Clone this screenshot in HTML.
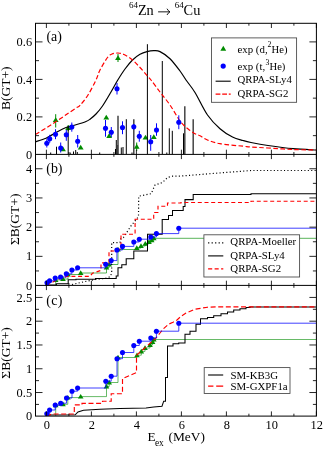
<!DOCTYPE html>
<html><head><meta charset="utf-8"><title>64Zn to 64Cu B(GT+)</title>
<style>
html,body{margin:0;padding:0;background:#fff;}
body{width:324px;height:449px;overflow:hidden;}
svg{display:block;will-change:transform;}
svg text{font-family:"Liberation Serif",serif;fill:#000;}
</style></head><body>
<svg width="324" height="449" viewBox="0 0 324 449">
<rect width="324" height="449" fill="#fff"/>
<defs>
<clipPath id="ca"><rect x="35.5" y="23.3" width="280.9" height="131.1"/></clipPath>
<clipPath id="cb"><rect x="35.5" y="154.4" width="280.9" height="131.0"/></clipPath>
<clipPath id="cc"><rect x="35.5" y="285.4" width="280.9" height="130.7"/></clipPath>
</defs>
<g clip-path="url(#ca)" fill="none">
<path d="M55.70,114.20 V127.50" stroke="#008b00" stroke-width="1"/>
<path d="M55.70,117.20 L52.79,122.10 L58.61,122.10 Z" fill="#008b00"/>
<path d="M63.00,146.40 L60.09,151.30 L65.91,151.30 Z" fill="#008b00"/>
<path d="M68.20,125.00 V131.00" stroke="#008b00" stroke-width="1"/>
<path d="M68.20,125.20 L65.29,130.10 L71.11,130.10 Z" fill="#008b00"/>
<path d="M80.70,144.70 L77.79,149.60 L83.61,149.60 Z" fill="#008b00"/>
<path d="M106.30,114.70 L103.39,119.60 L109.21,119.60 Z" fill="#008b00"/>
<path d="M109.20,133.00 L106.29,137.90 L112.11,137.90 Z" fill="#008b00"/>
<path d="M118.00,54.00 V62.00" stroke="#008b00" stroke-width="1"/>
<path d="M118.00,55.20 L115.09,60.10 L120.91,60.10 Z" fill="#008b00"/>
<path d="M136.70,142.50 V151.00" stroke="#008b00" stroke-width="1"/>
<path d="M136.70,143.90 L133.79,148.80 L139.61,148.80 Z" fill="#008b00"/>
<path d="M145.50,134.70 L142.59,139.60 L148.41,139.60 Z" fill="#008b00"/>
<path d="M153.80,134.20 L150.89,139.10 L156.71,139.10 Z" fill="#008b00"/>
<path d="M50.70,154.40 V152.50" stroke="#000" stroke-width="1"/>
<path d="M56.50,154.40 V146.70" stroke="#000" stroke-width="1"/>
<path d="M68.20,154.40 V126.70" stroke="#000" stroke-width="1"/>
<path d="M70.20,154.40 V152.50" stroke="#000" stroke-width="1"/>
<path d="M73.50,154.40 V151.50" stroke="#000" stroke-width="1"/>
<path d="M75.70,154.40 V150.00" stroke="#000" stroke-width="1"/>
<path d="M77.30,154.40 V152.00" stroke="#000" stroke-width="1"/>
<path d="M99.70,154.40 V152.50" stroke="#000" stroke-width="1"/>
<path d="M115.50,154.40 V149.00" stroke="#000" stroke-width="1"/>
<path d="M116.30,154.40 V140.00" stroke="#000" stroke-width="1"/>
<path d="M117.70,154.40 V145.00" stroke="#000" stroke-width="1"/>
<path d="M118.00,154.40 V115.80" stroke="#444" stroke-width="1.5"/>
<path d="M121.30,154.40 V147.50" stroke="#000" stroke-width="1"/>
<path d="M123.00,154.40 V147.00" stroke="#000" stroke-width="1"/>
<path d="M126.30,154.40 V119.20" stroke="#000" stroke-width="1"/>
<path d="M132.00,154.40 V152.50" stroke="#000" stroke-width="1"/>
<path d="M133.80,154.40 V119.20" stroke="#444" stroke-width="1.5"/>
<path d="M147.40,154.40 V44.20" stroke="#000" stroke-width="1"/>
<path d="M162.30,154.40 V61.00" stroke="#000" stroke-width="1"/>
<path d="M166.80,154.40 V152.50" stroke="#000" stroke-width="1"/>
<path d="M169.30,154.40 V128.30" stroke="#000" stroke-width="1"/>
<path d="M172.30,154.40 V130.80" stroke="#000" stroke-width="1"/>
<path d="M183.50,154.40 V133.30" stroke="#000" stroke-width="1"/>
<path d="M184.80,154.40 V106.30" stroke="#444" stroke-width="1.5"/>
<path d="M193.20,154.40 V119.20" stroke="#444" stroke-width="1.5"/>
<path d="M35.40,141.80 C37.17,141.20 42.57,139.75 46.00,138.20 C49.43,136.65 52.67,134.28 56.00,132.50 C59.33,130.72 62.67,128.78 66.00,127.50 C69.33,126.22 72.67,125.80 76.00,124.80 C79.33,123.80 83.67,122.43 86.00,121.50 C88.33,120.57 88.33,120.45 90.00,119.20 C91.67,117.95 93.92,116.20 96.00,114.00 C98.08,111.80 100.00,109.67 102.50,106.00 C105.00,102.33 108.50,96.25 111.00,92.00 C113.50,87.75 115.17,84.33 117.50,80.50 C119.83,76.67 122.50,72.42 125.00,69.00 C127.50,65.58 130.00,62.45 132.50,60.00 C135.00,57.55 137.58,55.70 140.00,54.30 C142.42,52.90 144.72,52.20 147.00,51.60 C149.28,51.00 151.53,50.70 153.70,50.70 C155.87,50.70 157.28,50.27 160.00,51.60 C162.72,52.93 166.67,55.47 170.00,58.70 C173.33,61.93 177.33,67.45 180.00,71.00 C182.67,74.55 183.50,76.42 186.00,80.00 C188.50,83.58 191.42,86.67 195.00,92.50 C198.58,98.33 203.33,108.97 207.50,115.00 C211.67,121.03 215.83,125.03 220.00,128.70 C224.17,132.37 228.67,135.03 232.50,137.00 C236.33,138.97 239.92,139.58 243.00,140.50 C246.08,141.42 246.83,141.67 251.00,142.50 C255.17,143.33 261.00,144.47 268.00,145.50 C275.00,146.53 284.93,147.95 293.00,148.70 C301.07,149.45 312.50,149.78 316.40,150.00" stroke="#000" stroke-width="1.2"/>
<path d="M35.40,134.50 C37.17,133.42 42.57,130.15 46.00,128.00 C49.43,125.85 52.67,123.80 56.00,121.60 C59.33,119.40 62.67,117.07 66.00,114.80 C69.33,112.53 73.67,109.58 76.00,108.00 C78.33,106.42 78.00,107.47 80.00,105.30 C82.00,103.13 85.33,99.22 88.00,95.00 C90.67,90.78 94.00,84.17 96.00,80.00 C98.00,75.83 98.08,73.75 100.00,70.00 C101.92,66.25 105.50,60.17 107.50,57.50 C109.50,54.83 110.25,54.75 112.00,54.00 C113.75,53.25 116.00,52.92 118.00,53.00 C120.00,53.08 121.58,53.33 124.00,54.50 C126.42,55.67 129.83,57.83 132.50,60.00 C135.17,62.17 137.50,64.83 140.00,67.50 C142.50,70.17 145.67,73.92 147.50,76.00 C149.33,78.08 148.92,77.33 151.00,80.00 C153.08,82.67 156.83,87.83 160.00,92.00 C163.17,96.17 166.78,100.33 170.00,105.00 C173.22,109.67 176.97,116.58 179.30,120.00 C181.63,123.42 182.33,123.83 184.00,125.50 C185.67,127.17 187.47,128.63 189.30,130.00 C191.13,131.37 193.22,132.73 195.00,133.70 C196.78,134.67 197.92,134.75 200.00,135.80 C202.08,136.85 204.17,138.68 207.50,140.00 C210.83,141.32 214.08,142.67 220.00,143.70 C225.92,144.73 237.83,145.65 243.00,146.20 C248.17,146.75 246.83,146.70 251.00,147.00 C255.17,147.30 261.00,147.58 268.00,148.00 C275.00,148.42 284.93,149.17 293.00,149.50 C301.07,149.83 312.50,149.92 316.40,150.00" stroke="#ff0000" stroke-width="1.2" stroke-dasharray="4.6 2.4"/>
<path d="M46.80,139.20 V147.50" stroke="#0000ff" stroke-width="1"/>
<circle cx="46.80" cy="143.30" r="2.55" fill="#0000ff"/>
<path d="M49.70,134.80 V142.80" stroke="#0000ff" stroke-width="1"/>
<circle cx="49.70" cy="138.80" r="2.55" fill="#0000ff"/>
<path d="M55.50,129.20 V139.20" stroke="#0000ff" stroke-width="1"/>
<circle cx="55.50" cy="134.20" r="2.55" fill="#0000ff"/>
<path d="M60.70,142.50 V152.50" stroke="#0000ff" stroke-width="1"/>
<circle cx="60.70" cy="148.00" r="2.55" fill="#0000ff"/>
<path d="M66.30,130.00 V140.80" stroke="#0000ff" stroke-width="1"/>
<circle cx="66.30" cy="134.70" r="2.55" fill="#0000ff"/>
<path d="M71.80,122.50 V131.70" stroke="#0000ff" stroke-width="1"/>
<circle cx="71.80" cy="127.00" r="2.55" fill="#0000ff"/>
<path d="M77.70,135.00 V147.50" stroke="#0000ff" stroke-width="1"/>
<circle cx="77.70" cy="141.30" r="2.55" fill="#0000ff"/>
<path d="M105.50,120.00 V136.70" stroke="#0000ff" stroke-width="1"/>
<circle cx="105.50" cy="128.30" r="2.55" fill="#0000ff"/>
<path d="M111.30,127.00 V137.00" stroke="#0000ff" stroke-width="1"/>
<circle cx="111.30" cy="132.20" r="2.55" fill="#0000ff"/>
<path d="M117.00,83.00 V94.50" stroke="#0000ff" stroke-width="1"/>
<circle cx="117.00" cy="88.70" r="2.55" fill="#0000ff"/>
<path d="M122.50,121.30 V134.20" stroke="#0000ff" stroke-width="1"/>
<circle cx="122.50" cy="127.50" r="2.55" fill="#0000ff"/>
<path d="M133.80,124.00 V129.50" stroke="#0000ff" stroke-width="1"/>
<circle cx="133.80" cy="126.70" r="2.55" fill="#0000ff"/>
<path d="M139.30,130.80 V141.70" stroke="#0000ff" stroke-width="1"/>
<circle cx="139.30" cy="136.20" r="2.55" fill="#0000ff"/>
<path d="M150.70,135.00 V150.80" stroke="#0000ff" stroke-width="1"/>
<circle cx="150.70" cy="141.70" r="2.55" fill="#0000ff"/>
<path d="M156.50,123.30 V135.80" stroke="#0000ff" stroke-width="1"/>
<circle cx="156.50" cy="130.00" r="2.55" fill="#0000ff"/>
<path d="M178.80,115.30 V129.20" stroke="#0000ff" stroke-width="1"/>
<circle cx="178.80" cy="122.20" r="2.55" fill="#0000ff"/>
</g>
<g clip-path="url(#cb)" fill="none">
<path d="M55.7,285.4 V279.9 L55.70,279.90 H63.00 V279.00 H68.00 V274.50 H80.70 V273.00 H106.50 V267.50 H109.20 V264.50 H118.00 V249.50 H136.80 V248.00 H141.00 V246.00 H145.30 V243.80 H149.00 V242.00 H151.70 V240.30 H153.80 V238.30 H316.40" stroke="#008b00" stroke-width="0.65"/>
<path d="M55.70,277.20 L52.89,281.92 L58.51,281.92 Z" fill="#008b00"/>
<path d="M63.00,276.30 L60.19,281.02 L65.81,281.02 Z" fill="#008b00"/>
<path d="M68.00,271.80 L65.19,276.52 L70.81,276.52 Z" fill="#008b00"/>
<path d="M80.70,270.30 L77.89,275.02 L83.51,275.02 Z" fill="#008b00"/>
<path d="M106.50,264.80 L103.69,269.52 L109.31,269.52 Z" fill="#008b00"/>
<path d="M109.20,261.80 L106.39,266.52 L112.01,266.52 Z" fill="#008b00"/>
<path d="M118.00,246.80 L115.19,251.53 L120.81,251.53 Z" fill="#008b00"/>
<path d="M136.80,245.30 L133.99,250.03 L139.61,250.03 Z" fill="#008b00"/>
<path d="M141.00,243.30 L138.19,248.03 L143.81,248.03 Z" fill="#008b00"/>
<path d="M145.30,241.10 L142.49,245.83 L148.11,245.83 Z" fill="#008b00"/>
<path d="M149.00,239.30 L146.19,244.03 L151.81,244.03 Z" fill="#008b00"/>
<path d="M151.70,237.60 L148.89,242.33 L154.51,242.33 Z" fill="#008b00"/>
<path d="M153.80,235.60 L150.99,240.33 L156.61,240.33 Z" fill="#008b00"/>
<path d="M72.00,284.50 L87.50,281.00 L95.50,279.50 L105.90,278.20 L110.50,276.50 L111.70,272.70 L111.70,242.60 L120.00,242.60 L121.00,238.50 L123.40,237.60 L131.00,225.90 L138.50,216.70 L138.70,196.20 L151.20,193.70 L155.00,185.00 L162.50,182.50 L167.50,177.50 L172.50,176.20 L181.00,176.00 L251.00,170.50 L316.40,170.50" stroke="#000" stroke-width="1.2" stroke-dasharray="1.1 2.3"/>
<path d="M46.4,285 H56.4 V283.7 H68.2 V279.8 H76 V279.2 H95.5 V278.5 H116.2 V276 H118 V267.7 H121.8 V264.8 H126.2 V258.8 H133.8 V251 H147.5 V234.2 H162.2 V219.5 H168.5 V215.5 H172.5 V210.5 H183.2 V206.5 H185 V199.6 H193.2 V194.4 H251 V193.8 H316.4" stroke="#000" stroke-width="1.05"/>
<path d="M46.4,285 L51,283 L58.5,279 L67.8,276.3 H90 L92.4,273.3 L101,270.4 V262.8 H109 V251 H116 L121,248.5 V234.2 H135.1 V219.2 H153.7 V212.5 H158 V206.2 H167.5 V203 H181 V202.5 H251 V201.2 H316.4" stroke="#ff0000" stroke-width="1.15" stroke-dasharray="4 2.7"/>
<path d="M47.00,282.80 H49.60 V280.80 H55.20 V278.00 H60.60 V277.00 H66.30 V273.80 H71.90 V270.00 H77.60 V267.80 H105.70 V264.20 H111.20 V260.60 H116.90 V250.00 H122.50 V246.40 H133.80 V242.00 H139.30 V239.20 H150.80 V237.00 H156.40 V233.60 H178.80 V228.20 H316.40" stroke="#0000ff" stroke-width="0.75"/>
<circle cx="47.00" cy="282.80" r="2.55" fill="#0000ff"/>
<circle cx="49.60" cy="280.80" r="2.55" fill="#0000ff"/>
<circle cx="55.20" cy="278.00" r="2.55" fill="#0000ff"/>
<circle cx="60.60" cy="277.00" r="2.55" fill="#0000ff"/>
<circle cx="66.30" cy="273.80" r="2.55" fill="#0000ff"/>
<circle cx="71.90" cy="270.00" r="2.55" fill="#0000ff"/>
<circle cx="77.60" cy="267.80" r="2.55" fill="#0000ff"/>
<circle cx="105.70" cy="264.20" r="2.55" fill="#0000ff"/>
<circle cx="111.20" cy="260.60" r="2.55" fill="#0000ff"/>
<circle cx="116.90" cy="250.00" r="2.55" fill="#0000ff"/>
<circle cx="122.50" cy="246.40" r="2.55" fill="#0000ff"/>
<circle cx="133.80" cy="242.00" r="2.55" fill="#0000ff"/>
<circle cx="139.30" cy="239.20" r="2.55" fill="#0000ff"/>
<circle cx="150.80" cy="237.00" r="2.55" fill="#0000ff"/>
<circle cx="156.40" cy="233.60" r="2.55" fill="#0000ff"/>
<circle cx="178.80" cy="228.20" r="2.55" fill="#0000ff"/>
</g>
<g clip-path="url(#cc)" fill="none">
<path d="M55.7,416.2 V405.3 L55.70,405.30 H63.00 V404.30 H67.80 V397.60 H80.70 V396.60 H106.50 V386.50 H109.20 V382.50 H118.00 V357.50 H137.00 V355.20 H141.30 V351.40 H145.00 V348.00 H150.00 V345.00 H152.60 V342.00 H153.80 V339.50 H316.40" stroke="#008b00" stroke-width="0.6"/>
<path d="M55.70,402.60 L52.89,407.32 L58.51,407.32 Z" fill="#008b00"/>
<path d="M63.00,401.60 L60.19,406.32 L65.81,406.32 Z" fill="#008b00"/>
<path d="M67.80,394.90 L64.99,399.62 L70.61,399.62 Z" fill="#008b00"/>
<path d="M80.70,393.90 L77.89,398.62 L83.51,398.62 Z" fill="#008b00"/>
<path d="M106.50,383.80 L103.69,388.52 L109.31,388.52 Z" fill="#008b00"/>
<path d="M109.20,379.80 L106.39,384.52 L112.01,384.52 Z" fill="#008b00"/>
<path d="M118.00,354.80 L115.19,359.52 L120.81,359.52 Z" fill="#008b00"/>
<path d="M137.00,352.50 L134.19,357.22 L139.81,357.22 Z" fill="#008b00"/>
<path d="M141.30,348.70 L138.49,353.42 L144.11,353.42 Z" fill="#008b00"/>
<path d="M145.00,345.30 L142.19,350.02 L147.81,350.02 Z" fill="#008b00"/>
<path d="M150.00,342.30 L147.19,347.02 L152.81,347.02 Z" fill="#008b00"/>
<path d="M152.60,339.30 L149.79,344.02 L155.41,344.02 Z" fill="#008b00"/>
<path d="M153.80,336.80 L150.99,341.52 L156.61,341.52 Z" fill="#008b00"/>
<path d="M46.40,415.00 L75.20,414.80 L78.00,412.00 L83.50,410.30 L100.00,409.30 L120.00,408.60 L146.00,408.00 L153.70,407.00 L162.00,406.20 L163.70,401.20 L165.50,401.20 L165.50,377.50 L167.50,377.50 L167.50,346.00 L173.00,346.00 L173.00,343.70 L178.70,343.70 L178.70,343.00 L185.00,343.00 L185.00,334.20 L190.00,334.20 L190.00,331.20 L196.00,331.20 L196.00,324.20 L200.50,324.20 L200.50,318.70 L207.50,318.70 L207.50,317.50 L213.70,317.50 L213.70,315.70 L221.00,315.70 L221.00,313.70 L227.50,313.70 L227.50,312.00 L233.70,312.00 L233.70,310.00 L240.00,310.00 L240.00,308.70 L246.00,308.70 L246.00,307.50 L250.00,307.50 L250.00,307.00 L316.40,307.00" stroke="#000" stroke-width="1.05"/>
<path d="M46.40,416.20 L52.00,414.00 L74.30,414.00 L74.30,404.80 L82.00,404.80 L82.00,403.30 L102.50,403.30 L102.50,401.20 L111.20,401.20 L111.20,393.70 L122.50,393.70 L122.50,378.70 L136.50,372.50 L136.50,355.20 L155.50,338.50 L160.00,333.00 L163.90,328.30 L168.50,324.20 L173.00,322.30 L177.00,320.00 L181.00,316.30 L186.00,313.00 L195.00,309.20 L207.50,307.20 L220.00,306.80 L316.40,306.80" stroke="#ff0000" stroke-width="1.15" stroke-dasharray="5 2.6"/>
<path d="M46.80,413.70 H49.60 V410.00 H55.20 V405.00 H60.70 V403.20 H66.50 V398.00 H72.00 V391.20 H77.60 V388.00 H105.80 V381.20 H111.20 V376.20 H117.00 V358.70 H122.50 V352.50 H133.80 V345.50 H139.30 V341.20 H150.80 V338.00 H156.40 V331.20 H178.80 V323.20 H316.40" stroke="#0000ff" stroke-width="0.75"/>
<circle cx="46.80" cy="413.70" r="2.55" fill="#0000ff"/>
<circle cx="49.60" cy="410.00" r="2.55" fill="#0000ff"/>
<circle cx="55.20" cy="405.00" r="2.55" fill="#0000ff"/>
<circle cx="60.70" cy="403.20" r="2.55" fill="#0000ff"/>
<circle cx="66.50" cy="398.00" r="2.55" fill="#0000ff"/>
<circle cx="72.00" cy="391.20" r="2.55" fill="#0000ff"/>
<circle cx="77.60" cy="388.00" r="2.55" fill="#0000ff"/>
<circle cx="105.80" cy="381.20" r="2.55" fill="#0000ff"/>
<circle cx="111.20" cy="376.20" r="2.55" fill="#0000ff"/>
<circle cx="117.00" cy="358.70" r="2.55" fill="#0000ff"/>
<circle cx="122.50" cy="352.50" r="2.55" fill="#0000ff"/>
<circle cx="133.80" cy="345.50" r="2.55" fill="#0000ff"/>
<circle cx="139.30" cy="341.20" r="2.55" fill="#0000ff"/>
<circle cx="150.80" cy="338.00" r="2.55" fill="#0000ff"/>
<circle cx="156.40" cy="331.20" r="2.55" fill="#0000ff"/>
<circle cx="178.80" cy="323.20" r="2.55" fill="#0000ff"/>
</g>
<rect x="211.5" y="37.9" width="85.1" height="64.4" fill="#fff" stroke="#444" stroke-width="0.85"/>
<path d="M223.30,45.80 L220.39,50.70 L226.21,50.70 Z" fill="#008b00"/>
<circle cx="223.20" cy="66.10" r="2.60" fill="#0000ff"/>
<path d="M215.6,81.2 H230.7" stroke="#000" stroke-width="1.1"/>
<path d="M215.6,94.1 H230.7" stroke="#ff0000" stroke-width="1.15" stroke-dasharray="4.8 1.8"/>
<text x="237.50" y="52.60" font-size="10.85" text-anchor="start" >exp (d,</text>
<text x="267.60" y="47.40" font-size="7.70" text-anchor="start" >2</text>
<text x="271.60" y="52.60" font-size="10.60" text-anchor="start" >He)</text>
<text x="237.50" y="70.40" font-size="10.85" text-anchor="start" >exp (t,</text>
<text x="265.50" y="65.30" font-size="7.70" text-anchor="start" >3</text>
<text x="269.50" y="70.40" font-size="10.60" text-anchor="start" >He)</text>
<text x="237.50" y="83.40" font-size="10.85" text-anchor="start" >QRPA-SLy4</text>
<text x="237.50" y="96.70" font-size="10.85" text-anchor="start" >QRPA-SG2</text>
<rect x="203.9" y="234.8" width="95.7" height="42.2" fill="#fff" stroke="#444" stroke-width="0.85"/>
<path d="M208.1,242.8 H223.7" stroke="#000" stroke-width="1.2" stroke-dasharray="1.2 2.3"/>
<path d="M208.1,255.9 H223.3" stroke="#000" stroke-width="1.1"/>
<path d="M208.1,268.9 H223.3" stroke="#ff0000" stroke-width="1.15" stroke-dasharray="4.1 2.4"/>
<text x="230.30" y="245.30" font-size="10.85" text-anchor="start" >QRPA-Moeller</text>
<text x="230.30" y="258.80" font-size="10.85" text-anchor="start" >QRPA-SLy4</text>
<text x="230.30" y="272.00" font-size="10.85" text-anchor="start" >QRPA-SG2</text>
<rect x="204.2" y="367.6" width="85.8" height="25.9" fill="#fff" stroke="#444" stroke-width="0.85"/>
<path d="M208.1,375.0 H223.2" stroke="#000" stroke-width="1.1"/>
<path d="M208.1,386.1 H223.2" stroke="#ff0000" stroke-width="1.15" stroke-dasharray="5.3 2.8 7 9"/>
<text x="230.40" y="378.80" font-size="10.85" text-anchor="start" >SM-KB3G</text>
<text x="230.40" y="390.20" font-size="10.85" text-anchor="start" >SM-GXPF1a</text>
<g stroke="#000" stroke-width="1.0" fill="none">
<rect x="35.5" y="23.3" width="280.9" height="392.8"/>
<path d="M35.5,154.4 H316.4 M35.5,285.4 H316.4"/>
</g>
<g stroke="#000" stroke-width="0.85" fill="none">
<path d="M46.40,23.3 v4.7 M46.40,149.7 v9.4 M46.40,280.7 v9.4 M46.40,411.4 v4.7"/>
<path d="M68.90,23.3 v2.4 M68.90,152.0 v4.8 M68.90,283.0 v4.8 M68.90,413.7 v2.4"/>
<path d="M91.40,23.3 v4.7 M91.40,149.7 v9.4 M91.40,280.7 v9.4 M91.40,411.4 v4.7"/>
<path d="M113.90,23.3 v2.4 M113.90,152.0 v4.8 M113.90,283.0 v4.8 M113.90,413.7 v2.4"/>
<path d="M136.40,23.3 v4.7 M136.40,149.7 v9.4 M136.40,280.7 v9.4 M136.40,411.4 v4.7"/>
<path d="M158.90,23.3 v2.4 M158.90,152.0 v4.8 M158.90,283.0 v4.8 M158.90,413.7 v2.4"/>
<path d="M181.40,23.3 v4.7 M181.40,149.7 v9.4 M181.40,280.7 v9.4 M181.40,411.4 v4.7"/>
<path d="M203.90,23.3 v2.4 M203.90,152.0 v4.8 M203.90,283.0 v4.8 M203.90,413.7 v2.4"/>
<path d="M226.40,23.3 v4.7 M226.40,149.7 v9.4 M226.40,280.7 v9.4 M226.40,411.4 v4.7"/>
<path d="M248.90,23.3 v2.4 M248.90,152.0 v4.8 M248.90,283.0 v4.8 M248.90,413.7 v2.4"/>
<path d="M271.40,23.3 v4.7 M271.40,149.7 v9.4 M271.40,280.7 v9.4 M271.40,411.4 v4.7"/>
<path d="M293.90,23.3 v2.4 M293.90,152.0 v4.8 M293.90,283.0 v4.8 M293.90,413.7 v2.4"/>
<path d="M316.40,23.3 v4.7 M316.40,149.7 v9.4 M316.40,280.7 v9.4 M316.40,411.4 v4.7"/>
<path d="M35.5,135.65 h3.5 M312.9,135.65 h3.5"/>
<path d="M35.5,116.90 h7.0 M309.4,116.90 h7.0"/>
<path d="M35.5,98.15 h3.5 M312.9,98.15 h3.5"/>
<path d="M35.5,79.40 h7.0 M309.4,79.40 h7.0"/>
<path d="M35.5,60.65 h3.5 M312.9,60.65 h3.5"/>
<path d="M35.5,41.90 h7.0 M309.4,41.90 h7.0"/>
<path d="M35.5,270.95 h3.5 M312.9,270.95 h3.5"/>
<path d="M35.5,256.35 h7.0 M309.4,256.35 h7.0"/>
<path d="M35.5,241.75 h3.5 M312.9,241.75 h3.5"/>
<path d="M35.5,227.15 h7.0 M309.4,227.15 h7.0"/>
<path d="M35.5,212.55 h3.5 M312.9,212.55 h3.5"/>
<path d="M35.5,197.95 h7.0 M309.4,197.95 h7.0"/>
<path d="M35.5,183.35 h3.5 M312.9,183.35 h3.5"/>
<path d="M35.5,168.75 h7.0 M309.4,168.75 h7.0"/>
<path d="M35.5,404.41 h3.5 M312.9,404.41 h3.5"/>
<path d="M35.5,392.53 h7.0 M309.4,392.53 h7.0"/>
<path d="M35.5,380.64 h3.5 M312.9,380.64 h3.5"/>
<path d="M35.5,368.75 h7.0 M309.4,368.75 h7.0"/>
<path d="M35.5,356.86 h3.5 M312.9,356.86 h3.5"/>
<path d="M35.5,344.98 h7.0 M309.4,344.98 h7.0"/>
<path d="M35.5,333.09 h3.5 M312.9,333.09 h3.5"/>
<path d="M35.5,321.20 h7.0 M309.4,321.20 h7.0"/>
<path d="M35.5,309.31 h3.5 M312.9,309.31 h3.5"/>
<path d="M35.5,297.43 h7.0 M309.4,297.43 h7.0"/>
</g>
<text x="46.80" y="429.20" font-size="12.40" text-anchor="middle" >0</text>
<text x="91.80" y="429.20" font-size="12.40" text-anchor="middle" >2</text>
<text x="136.80" y="429.20" font-size="12.40" text-anchor="middle" >4</text>
<text x="181.80" y="429.20" font-size="12.40" text-anchor="middle" >6</text>
<text x="226.80" y="429.20" font-size="12.40" text-anchor="middle" >8</text>
<text x="271.80" y="429.20" font-size="12.40" text-anchor="middle" >10</text>
<text x="316.80" y="429.20" font-size="12.40" text-anchor="middle" >12</text>
<text x="32.10" y="46.00" font-size="12.40" text-anchor="end" >0.6</text>
<text x="32.10" y="83.50" font-size="12.40" text-anchor="end" >0.4</text>
<text x="32.10" y="121.00" font-size="12.40" text-anchor="end" >0.2</text>
<text x="32.10" y="158.50" font-size="12.40" text-anchor="end" >0</text>
<text x="32.10" y="172.85" font-size="12.40" text-anchor="end" >4</text>
<text x="32.10" y="202.05" font-size="12.40" text-anchor="end" >3</text>
<text x="32.10" y="231.25" font-size="12.40" text-anchor="end" >2</text>
<text x="32.10" y="260.45" font-size="12.40" text-anchor="end" >1</text>
<text x="32.10" y="289.65" font-size="12.40" text-anchor="end" >0</text>
<text x="32.10" y="301.53" font-size="12.40" text-anchor="end" >2.5</text>
<text x="32.10" y="325.30" font-size="12.40" text-anchor="end" >2</text>
<text x="32.10" y="349.08" font-size="12.40" text-anchor="end" >1.5</text>
<text x="32.10" y="372.85" font-size="12.40" text-anchor="end" >1</text>
<text x="32.10" y="396.63" font-size="12.40" text-anchor="end" >0.5</text>
<text x="32.10" y="420.40" font-size="12.40" text-anchor="end" >0</text>
<text x="46.40" y="40.80" font-size="13.90" text-anchor="start" >(a)</text>
<text x="46.30" y="173.30" font-size="13.90" text-anchor="start" >(b)</text>
<text x="46.30" y="305.10" font-size="13.90" text-anchor="start" letter-spacing="0.3">(c)</text>
<text transform="translate(10.40,88.20) rotate(-90)" font-size="13.50" text-anchor="middle">B(GT+)</text>
<text transform="translate(19.30,219.30) rotate(-90)" font-size="13.50" text-anchor="middle">&#931;B(GT+)</text>
<text transform="translate(10.40,352.90) rotate(-90)" font-size="13.50" text-anchor="middle">&#931;B(GT+)</text>
<text x="147.60" y="441.20" font-size="13.30" text-anchor="start" >E</text>
<text x="154.90" y="445.80" font-size="9.40" text-anchor="start" >ex</text>
<text x="168.50" y="441.20" font-size="13.40" text-anchor="start" >(MeV)</text>
<text x="128.90" y="8.00" font-size="9.00" text-anchor="start" >64</text>
<text x="137.90" y="15.20" font-size="14.30" text-anchor="start" >Zn</text>
<path d="M158.1,11.85 H169.6 M167,8.7 Q168,10.8 170,11.85 Q168,12.9 167,15" stroke="#000" stroke-width="0.9" fill="none"/>
<text x="174.80" y="8.00" font-size="9.00" text-anchor="start" >64</text>
<text x="183.60" y="15.20" font-size="14.30" text-anchor="start" >Cu</text>
</svg>
</body></html>
